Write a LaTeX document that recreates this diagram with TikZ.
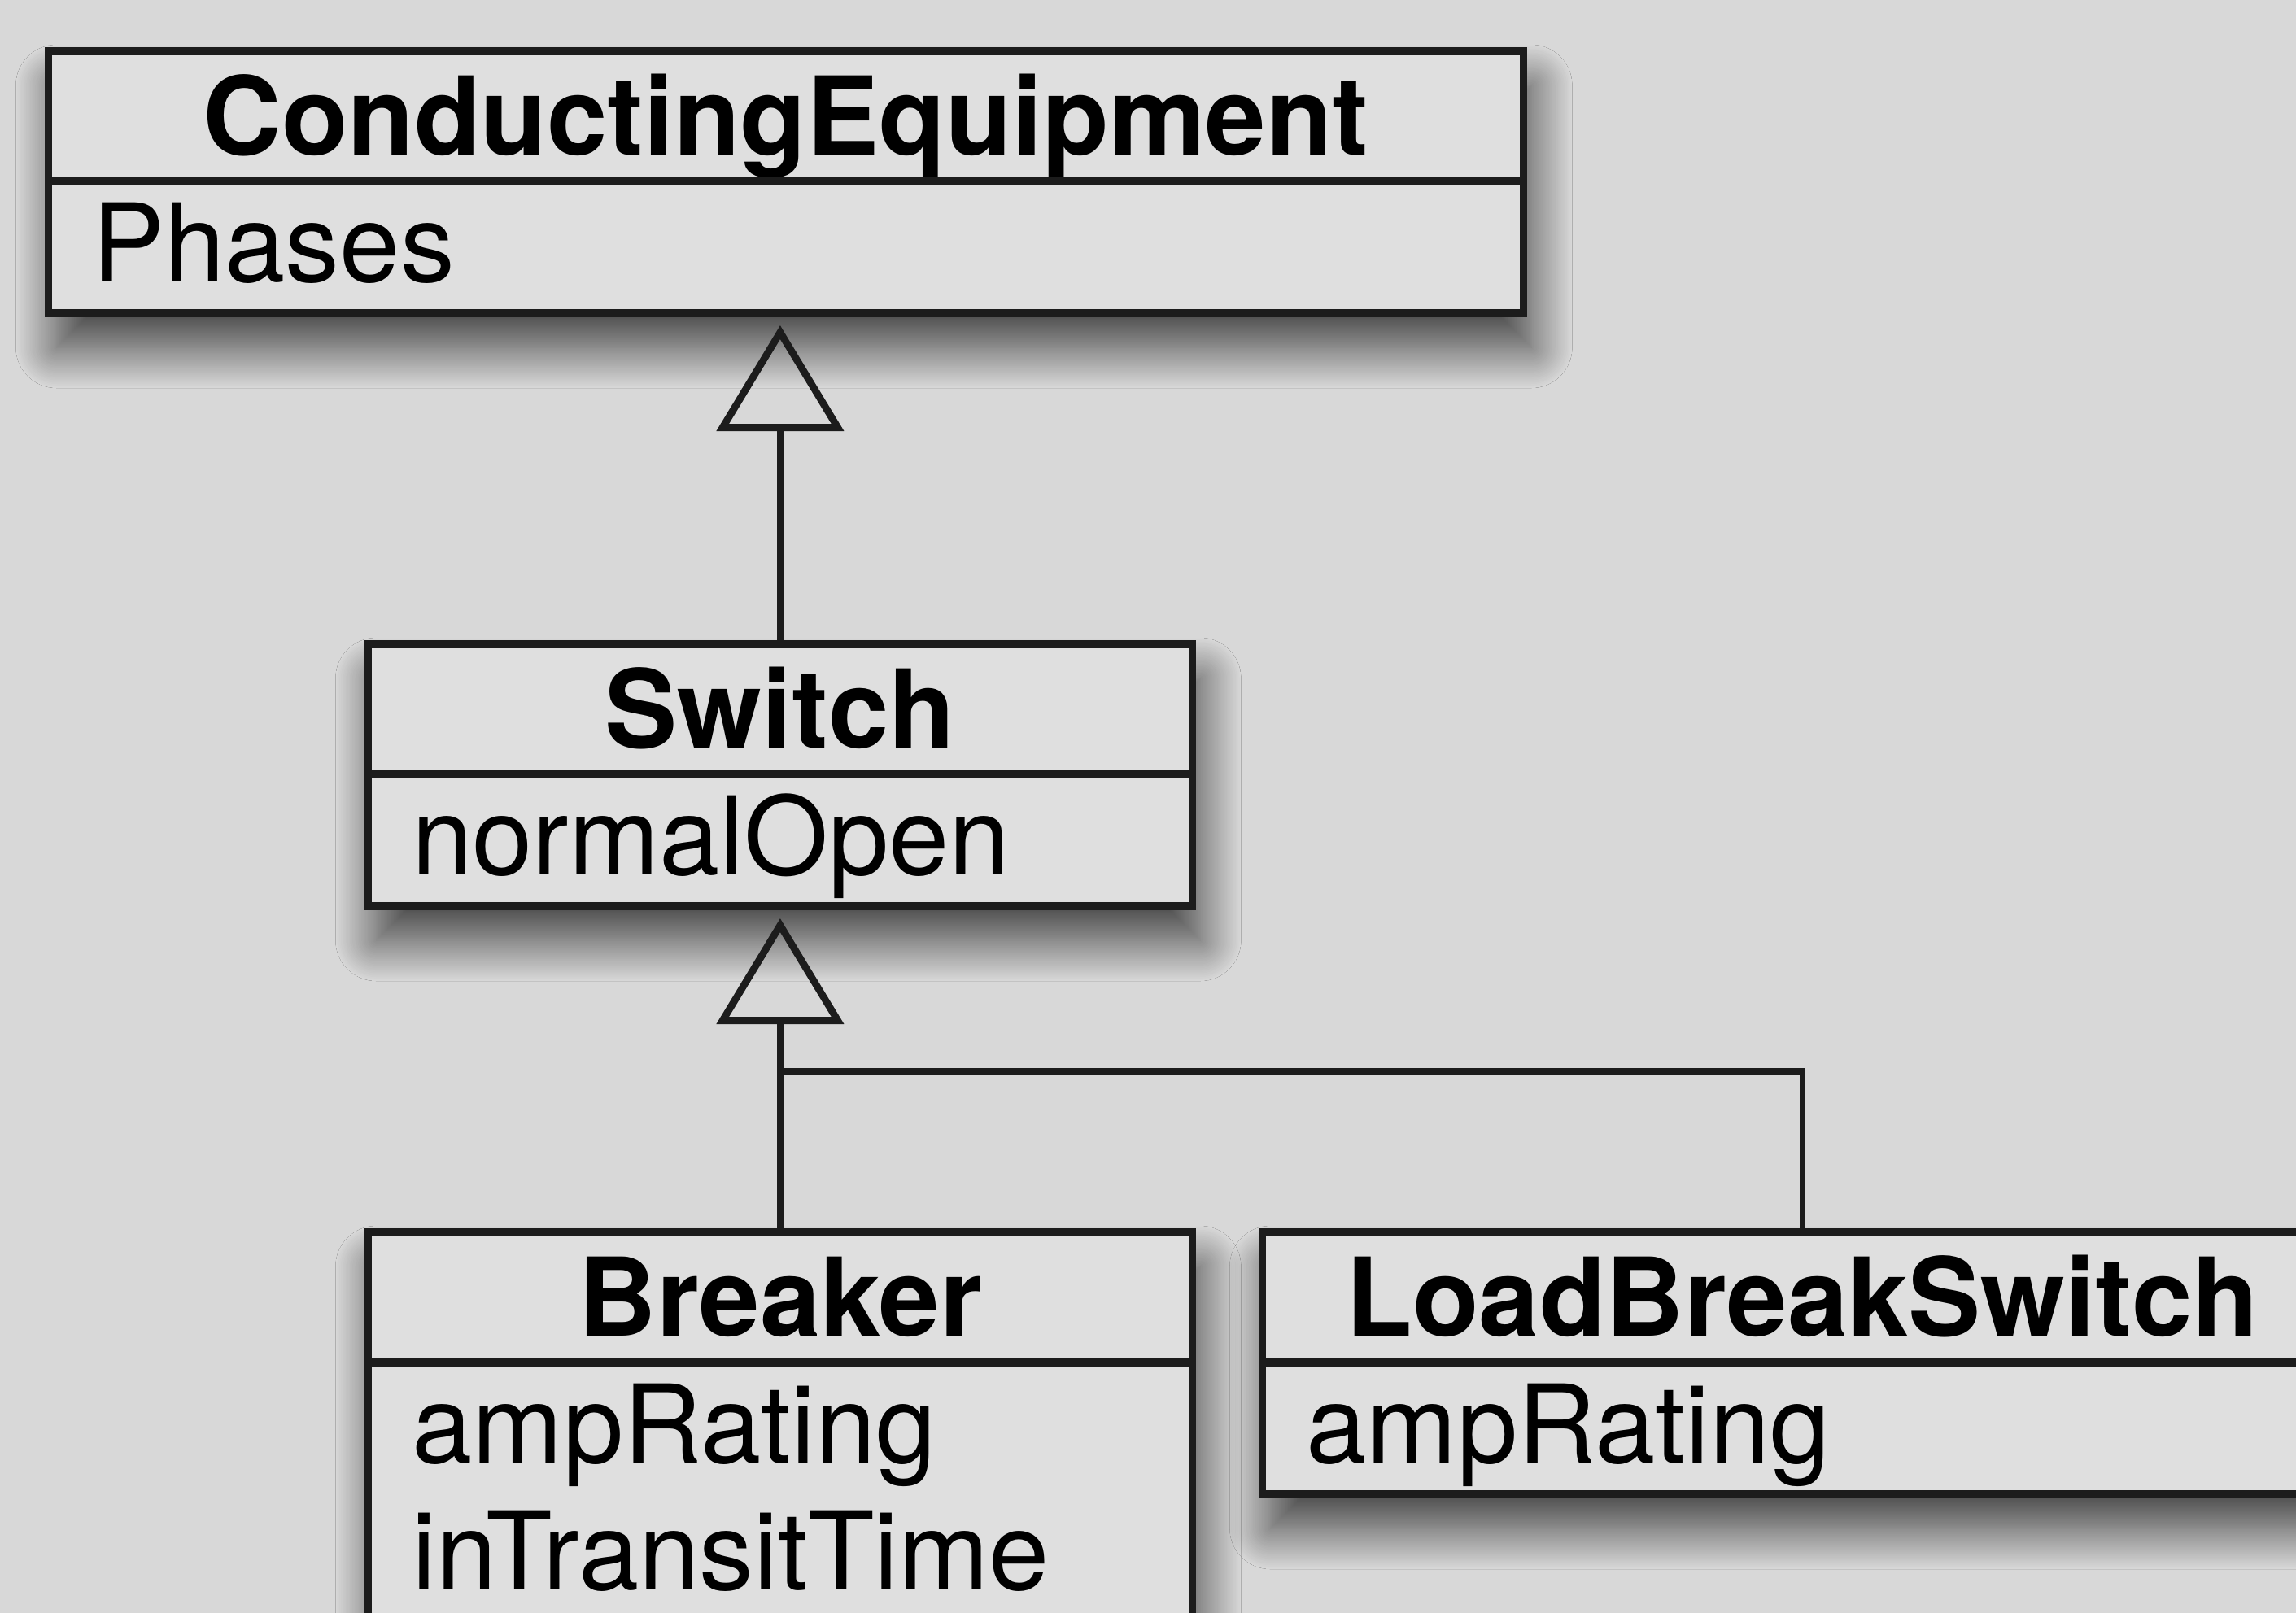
\documentclass[tikz,border=0pt]{standalone}
\usepackage{fontspec}
\setmainfont{TeX Gyre Heros}
\usetikzlibrary{positioning,arrows.meta,shadows.blur,backgrounds}
\definecolor{pagegray}{RGB}{216,216,216}
\definecolor{boxgray}{RGB}{223,223,223}
\definecolor{ink}{RGB}{28,28,28}
\tikzset{
  class head/.style={draw=ink,line width=2.7pt,fill=boxgray,outer sep=0pt,inner sep=0pt,
    minimum height=1.6cm,text height=1.27cm,text depth=0.33cm,
    font=\bfseries\fontsize{38}{44.6}\selectfont},
  class attr/.style={draw=ink,line width=2.7pt,fill=boxgray,outer sep=0pt,inner xsep=0.54cm,inner ysep=0pt,
    minimum height=1.62cm,text height=1.23cm,text depth=0.39cm,align=left,
    font=\fontsize{38}{44.6}\selectfont},
  gen/.style={draw=ink,line width=2.1pt,shorten >=0.15cm,
    -{Triangle[open,length=1.3cm,width=1.55cm,line width=2.5pt]}},
  link/.style={draw=ink,line width=2.1pt},
  class shadow/.style={fill=boxgray,blur shadow={shadow xshift=0.1cm,shadow yshift=-0.42cm,
    shadow blur radius=0.5cm,shadow blur steps=32,shadow opacity=70}}
}

\begin{document}
\begin{tikzpicture}
  \useasboundingbox (0,0) rectangle (28.22,-19.83);

  \node[class head, minimum width=18.13cm, anchor=north west] (cond) at (0.594,-0.63) {ConductingEquipment};
  \node[class attr, text width=17.05cm, below=0pt of cond] (condattr) {Phases};

  \node[class head, minimum width=10.13cm, below=4.07cm of condattr, xshift=-0.07cm] (sw) {Switch};
  \node[class attr, text width=9.05cm, below=0pt of sw] (swattr) {normalOpen};

  \node[class head, minimum width=10.13cm, below=4.01cm of swattr] (brk) {Breaker};
  \node[class attr, text width=9.05cm, text depth=1.956cm, below=0pt of brk] (brkattr) {ampRating\\inTransitTime};

  \node[class head, minimum width=13.28cm, right=0.86cm of brk] (lbs) {LoadBreakSwitch};
  \node[class attr, text width=12.2cm, below=0pt of lbs] (lbsattr) {ampRating};

  \coordinate[above=1.98cm of brk] (fork);

  % generalisations
  \draw[gen] (sw.north) -- (sw.north |- condattr.south);
  \draw[gen] (brk.north) -- (swattr.south);
  \draw[link] (lbs.north) |- (fork);

  \begin{scope}[on background layer]
    \fill[pagegray] (0,0) rectangle (28.22,-19.83);
    \path[class shadow] (cond.north west) rectangle (condattr.south east);
    \path[class shadow] (sw.north west) rectangle (swattr.south east);
    \path[class shadow] (brk.north west) rectangle (brkattr.south east);
    \path[class shadow] (lbs.north west) rectangle (lbsattr.south east);
  \end{scope}
\end{tikzpicture}
\end{document}
